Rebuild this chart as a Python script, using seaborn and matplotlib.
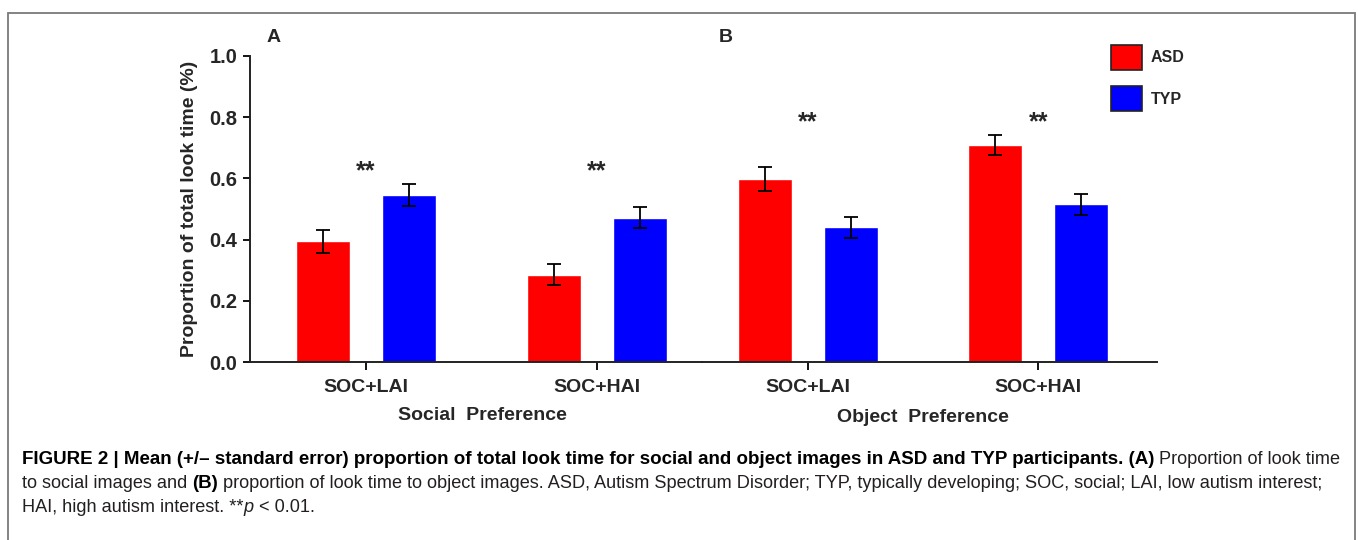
import pandas as pd
import matplotlib
matplotlib.use("Agg")
import matplotlib.pyplot as plt
from matplotlib.patches import Patch, Rectangle
import seaborn as sns

# data
conditions = ["Social SOC+LAI", "Social SOC+HAI", "Object SOC+LAI", "Object SOC+HAI"]
tick_labels = ["SOC+LAI", "SOC+HAI", "SOC+LAI", "SOC+HAI"]
panels = ["Social", "Social", "Object", "Object"]
panel_titles = ["Social  Preference", "Object  Preference"]
panel_letters = ["A", "B"]
groups = ["ASD", "TYP"]
asd_mean = [0.395, 0.286, 0.598, 0.708]
asd_se = [0.037, 0.035, 0.038, 0.032]
typ_mean = [0.545, 0.472, 0.440, 0.516]
typ_se = [0.036, 0.034, 0.033, 0.034]
stars = ["**", "**", "**", "**"]
star_y = [0.60, 0.60, 0.76, 0.76]
colors = {"ASD": "#ff0000", "TYP": "#0000ff"}

df = pd.DataFrame({
    "condition": conditions * 2,
    "tick": tick_labels * 2,
    "panel": panels * 2,
    "group": ["ASD"] * 4 + ["TYP"] * 4,
    "proportion": asd_mean + typ_mean,
    "se": asd_se + typ_se,
})

sns.set_style("white")
plt.rcParams["font.family"] = ["Liberation Sans", "DejaVu Sans"]

W, H = 1358, 540
fig = plt.figure(figsize=(W / 100, H / 100), dpi=100)

def px_rect(x0, x1, ytop, ybot):
    return [x0 / W, 1 - ybot / H, (x1 - x0) / W, (ybot - ytop) / H]

unit = 230.7
axA = fig.add_axes(px_rect(250, 702, 55.7, 362.3))
axB = fig.add_axes(px_rect(702, 1157, 55.7, 362.3))
axes = [axA, axB]
xlims = [((250 - 366) / unit, (702 - 366) / unit),
         ((702 - 807.7) / unit, (1157 - 807.7) / unit)]

for k, (ax, pname) in enumerate(zip(axes, ["Social", "Object"])):
    sub = df[df["panel"] == pname]
    sns.barplot(data=sub, x="condition", y="proportion", hue="group",
                hue_order=groups, palette=colors, saturation=1,
                width=0.746, gap=0.372, errorbar=None, legend=False, ax=ax)
    for cont, g in zip(ax.containers, groups):
        vals = sub[sub["group"] == g]
        xs = [b.get_x() + b.get_width() / 2 for b in cont]
        ax.errorbar(xs, vals["proportion"], yerr=vals["se"], fmt="none",
                    ecolor="black", elinewidth=1.3, capsize=4.8, capthick=1.3)
    ticks = sub["tick"].iloc[:2].tolist()
    ax.set_xticks(range(2))
    ax.set_xticklabels(ticks, fontsize=14, fontweight="bold")
    ax.set_xlim(*xlims[k])
    ax.set_ylim(0, 1.0)
    ax.set_xlabel("")
    ax.set_ylabel("")
    for i in range(2):
        ax.text(i, star_y[2 * k + i], stars[2 * k + i], ha="center",
                va="baseline", fontsize=18, fontweight="bold")
    ax.tick_params(axis="x", length=6, width=1.3, pad=6, color="black",
                   bottom=True)
    for s in ["top", "right"]:
        ax.spines[s].set_visible(False)
    ax.spines["bottom"].set_linewidth(1.4)
    ax.spines["bottom"].set_color("#222222")
    ax.patch.set_alpha(0)

axA.set_yticks([0, 0.2, 0.4, 0.6, 0.8, 1.0])
axA.set_yticklabels([f"{v:.1f}" for v in [0, 0.2, 0.4, 0.6, 0.8, 1.0]],
                    fontsize=14.5, fontweight="bold")
axA.tick_params(axis="y", length=5, width=1.3, pad=4, left=True, color="black")
axA.spines["left"].set_linewidth(1.4)
axA.spines["left"].set_color("#222222")
axA.set_ylabel("Proportion of total look time (%)", fontsize=14,
               fontweight="bold", labelpad=8)
axB.spines["left"].set_visible(False)
axB.set_yticks([])

# panel letters and group titles
fig.text(274 / W, 1 - 37 / H, panel_letters[0], fontsize=14, fontweight="bold",
         ha="center", va="center")
fig.text(726 / W, 1 - 37 / H, panel_letters[1], fontsize=14, fontweight="bold",
         ha="center", va="center")
fig.text(482 / W, 1 - 416 / H, panel_titles[0], fontsize=14,
         fontweight="bold", ha="center", va="center")
fig.text(923 / W, 1 - 418 / H, panel_titles[1], fontsize=14,
         fontweight="bold", ha="center", va="center")

# legend
handles = [Patch(facecolor=colors[g], edgecolor="#222222", linewidth=1.2)
           for g in groups]
fig.legend(handles, groups, loc="upper left",
           bbox_to_anchor=(1110.5 / W, 1 - 45 / H), frameon=False,
           prop={"size": 11.5, "weight": "bold"}, handlelength=1.95,
           handleheight=2.0, labelspacing=1.05, handletextpad=0.55,
           borderpad=0, borderaxespad=0)

# frame around the figure (open at the bottom)
fig.add_artist(Rectangle((7.5 / W, -0.05), (1354.5 - 7.5) / W,
                         1.05 - 12.5 / H, transform=fig.transFigure,
                         fill=False, edgecolor="#7a7a7a", linewidth=1.3))

# caption with mixed bold / regular runs
caption = [
    [("FIGURE 2 | Mean (+/\u2013 standard error) proportion of total look time for social "
      "and object images in ASD and TYP participants. (A)", "bold", "normal"),
     ("Proportion of look time", "normal", "normal")],
    [("to social images and", "normal", "normal"), ("(B)", "bold", "normal"),
     ("proportion of look time to object images. ASD, Autism Spectrum Disorder; TYP, "
      "typically developing; SOC, social; LAI, low autism interest;", "normal", "normal")],
    [("HAI, high autism interest. **", "normal", "normal"), ("p", "normal", "italic"),
     ("< 0.01.", "normal", "normal")],
]
caption_y = [459, 483, 507]
cap_color = "#231f20"
fig.canvas.draw()
renderer = fig.canvas.get_renderer()

def text_width(s, size, weight, style="normal"):
    t = fig.text(0, 0, s, fontsize=size, fontweight=weight, fontstyle=style)
    w = t.get_window_extent(renderer).width
    t.remove()
    return w

def space(size):
    return text_width("x x", size, "normal") - text_width("xx", size, "normal")

# bold run of line 1 spans x=22..1153, whole of line 2 spans x=22..1323
bold_size = 12.0 * (1153 - 22) / text_width(caption[0][0][0], 12.0, "bold")

def line2_width(size):
    segs = caption[1]
    return (text_width(segs[0][0], size, "normal") + text_width(segs[1][0], bold_size, "bold")
            + text_width(segs[2][0], size, "normal") + 2 * space(size))

reg_size = 12.0 * (1323 - 22) / line2_width(12.0)
reg_size = 12.0 * (1323 - 22 - (line2_width(reg_size) - line2_width(12.0) * reg_size / 12.0)) / line2_width(12.0)

for segs, yy in zip(caption, caption_y):
    x = 22
    for j, (s, wgt, sty) in enumerate(segs):
        size = bold_size if wgt == "bold" else reg_size
        fig.text(x / W, 1 - yy / H, s, fontsize=size, fontweight=wgt,
                 fontstyle=sty, ha="left", va="center",
                 color="black" if wgt == "bold" else cap_color)
        x += text_width(s, size, wgt, sty)
        if j < len(segs) - 1 and not (s.endswith("**") and segs[j + 1][0] == "p"):
            x += space(reg_size)

fig.savefig("out.png", dpi=100, facecolor="white")
